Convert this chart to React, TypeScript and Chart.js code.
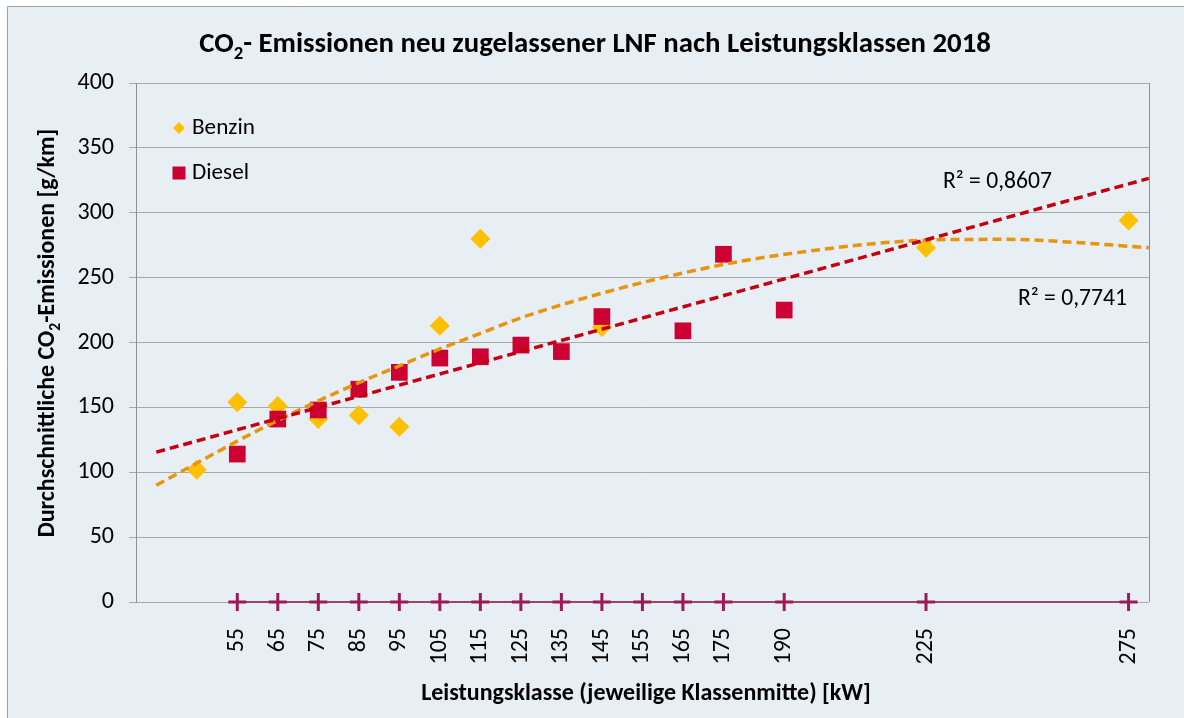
import React, { useEffect, useRef } from "react";
import { Chart, registerables } from "chart.js";
Chart.register(...registerables);

const FONT = "Carlito, Lato, 'Open Sans', sans-serif";

// ---- data ----
const X_TICKS = [55, 65, 75, 85, 95, 105, 115, 125, 135, 145, 155, 165, 175, 190, 225, 275];
const AXIS_MARK_Y = [0, 0, 0, 0, 0, 0, 0, 0, 0, 0, 0, 0, 0, 0, 0, 0];
const BENZIN_X = [45, 55, 65, 75, 85, 95, 105, 115, 145, 225, 275];
const BENZIN_Y = [102, 154, 151, 141, 144, 135, 213, 280, 212, 273, 294];
const DIESEL_X = [55, 65, 75, 85, 95, 105, 115, 125, 135, 145, 165, 175, 190];
const DIESEL_Y = [114, 141, 148, 164, 177, 188, 189, 198, 193, 220, 209, 268, 225];
const BENZIN_TREND_X = [35, 45, 55, 65, 75, 85, 95, 105, 115, 125, 135, 145, 160, 180, 200, 215, 230, 245, 260, 280];
const BENZIN_TREND_Y = [90, 107, 124, 140, 155, 169, 182, 195, 207, 219, 229, 238, 250, 263, 272, 277, 279.3, 279.5, 277.5, 273];
const DIESEL_TREND_X = [35, 280];
const DIESEL_TREND_Y = [115.5, 326.5];
const R2_LABELS = ["R² = 0,8607", "R² = 0,7741"];
const SERIES = ["Benzin", "Diesel"];
const TITLE = ["CO", "2", "- Emissionen neu zugelassener LNF nach Leistungsklassen 2018"];
const Y_TITLE = ["Durchschnittliche CO", "2", "-Emissionen [g/km]"];
const X_TITLE = "Leistungsklasse (jeweilige Klassenmitte) [kW]";
const X_MIN = 30;
const X_MAX = 280;
const Y_MIN = 0;
const Y_MAX = 400;
const Y_STEP = 50;

// ---- styles ----
const BG = "#E7EEF4";
const GRID = "#A9A9A9";
const AXIS = "#8E8E8E";
const BENZIN_COLOR = "#FFC000";
const DIESEL_COLOR = "#CC0033";
const BENZIN_TREND_COLOR = "#E8940C";
const DIESEL_TREND_COLOR = "#C40010";
const MARK_COLOR = "#9B1B5A";
const MARK_LINE = "#9A4570";
const TICK_SIZE = 24;

Chart.defaults.font.family = FONT;
Chart.defaults.font.size = TICK_SIZE;
Chart.defaults.color = "#000";

const pts = (xs: number[], ys: number[]) => xs.map((x, i) => ({ x, y: ys[i] }));

function drawSubText(
  ctx: CanvasRenderingContext2D,
  parts: string[],
  size: number,
  targetWidth: number,
  cx: number,
  cy: number
) {
  const measure = (s: number) => {
    ctx.font = `bold ${s}px ${FONT}`;
    const a = ctx.measureText(parts[0]).width;
    const c = ctx.measureText(parts[2]).width;
    ctx.font = `bold ${s * 0.65}px ${FONT}`;
    const b = ctx.measureText(parts[1]).width;
    return [a, b, c];
  };
  let [a, b, c] = measure(size);
  const s = size * (targetWidth / (a + b + c));
  [a, b, c] = measure(s);
  const total = a + b + c;
  let x = cx - total / 2;
  ctx.fillStyle = "#000";
  ctx.textAlign = "left";
  ctx.textBaseline = "middle";
  ctx.font = `bold ${s}px ${FONT}`;
  ctx.fillText(parts[0], x, cy);
  x += a;
  ctx.font = `bold ${s * 0.65}px ${FONT}`;
  ctx.fillText(parts[1], x, cy + s * 0.32);
  x += b;
  ctx.font = `bold ${s}px ${FONT}`;
  ctx.fillText(parts[2], x, cy);
}

function drawFitText(
  ctx: CanvasRenderingContext2D,
  text: string,
  weight: string,
  size: number,
  targetWidth: number,
  x: number,
  y: number,
  align: CanvasTextAlign
) {
  ctx.font = `${weight} ${size}px ${FONT}`;
  const w = ctx.measureText(text).width;
  const s = size * (targetWidth / w);
  ctx.font = `${weight} ${s}px ${FONT}`;
  ctx.textAlign = align;
  ctx.textBaseline = "middle";
  ctx.fillStyle = "#000";
  ctx.fillText(text, x, y);
}

const decorPlugin = {
  id: "decor",
  beforeDraw(chart: any) {
    const ctx = chart.ctx as CanvasRenderingContext2D;
    ctx.save();
    ctx.fillStyle = "#FFFFFF";
    ctx.fillRect(0, 0, chart.width, chart.height);
    ctx.fillStyle = BG;
    ctx.fillRect(7, 6, chart.width, chart.height);
    ctx.strokeStyle = "#A0A0A0";
    ctx.lineWidth = 1;
    ctx.beginPath();
    ctx.moveTo(7.5, chart.height);
    ctx.lineTo(7.5, 6.5);
    ctx.lineTo(chart.width, 6.5);
    ctx.stroke();
    ctx.restore();
  },
  beforeDatasetsDraw(chart: any) {
    const ctx = chart.ctx as CanvasRenderingContext2D;
    const a = chart.chartArea;
    ctx.save();
    ctx.strokeStyle = AXIS;
    ctx.lineWidth = 1;
    ctx.beginPath();
    ctx.moveTo(Math.round(a.right) + 0.5, a.top);
    ctx.lineTo(Math.round(a.right) + 0.5, a.bottom);
    ctx.stroke();
    ctx.restore();
  },
  afterDraw(chart: any) {
    const ctx = chart.ctx as CanvasRenderingContext2D;
    ctx.save();
    drawSubText(ctx, TITLE, 22, 792, 595, 45);
    ctx.save();
    ctx.translate(48, 333);
    ctx.rotate(-Math.PI / 2);
    drawSubText(ctx, Y_TITLE, 18, 409, 0, 0);
    ctx.restore();
    drawFitText(ctx, X_TITLE, "bold", 18, 450, 646, 694, "center");
    ctx.fillStyle = BENZIN_COLOR;
    ctx.beginPath();
    ctx.moveTo(179, 122);
    ctx.lineTo(185, 128);
    ctx.lineTo(179, 134);
    ctx.lineTo(173, 128);
    ctx.closePath();
    ctx.fill();
    ctx.fillStyle = DIESEL_COLOR;
    ctx.fillRect(172.5, 166.5, 13, 13);
    drawFitText(ctx, SERIES[0], "normal", 20, 63, 192, 128, "left");
    drawFitText(ctx, SERIES[1], "normal", 20, 57, 192, 173, "left");
    drawFitText(ctx, R2_LABELS[0], "normal", 20, 109, 943, 182, "left");
    drawFitText(ctx, R2_LABELS[1], "normal", 20, 109, 1018, 299, "left");
    ctx.restore();
  },
};

export default function App() {
  const ref = useRef<HTMLCanvasElement | null>(null);
  useEffect(() => {
    document.body.style.margin = "0";
    if (!ref.current) return;
    const tickFont = { family: FONT, size: TICK_SIZE, weight: "normal" };
    const chart = new Chart(ref.current, {
      type: "scatter",
      data: {
        datasets: [
          {
            type: "line",
            label: "Linear (Diesel)",
            data: pts(DIESEL_TREND_X, DIESEL_TREND_Y),
            borderColor: DIESEL_TREND_COLOR,
            borderWidth: 3.5,
            borderDash: [9, 5],
            pointRadius: 0,
            fill: false,
            order: 0,
            clip: false,
          } as any,
          {
            type: "line",
            label: "Poly. (Benzin)",
            data: pts(BENZIN_TREND_X, BENZIN_TREND_Y),
            borderColor: BENZIN_TREND_COLOR,
            borderWidth: 3.5,
            borderDash: [9, 5],
            pointRadius: 0,
            fill: false,
            cubicInterpolationMode: "monotone",
            order: 1,
            clip: false,
          } as any,
          {
            label: SERIES[1],
            data: pts(DIESEL_X, DIESEL_Y),
            pointStyle: "rect",
            pointRadius: 11.8,
            backgroundColor: DIESEL_COLOR,
            borderWidth: 0,
            pointBorderWidth: 0,
            order: 2,
            clip: false,
          } as any,
          {
            label: SERIES[0],
            data: pts(BENZIN_X, BENZIN_Y),
            pointStyle: "rectRot",
            pointRadius: 10,
            backgroundColor: BENZIN_COLOR,
            borderWidth: 0,
            pointBorderWidth: 0,
            order: 3,
            clip: false,
          } as any,
          {
            type: "line",
            label: "Achse",
            data: pts(X_TICKS, AXIS_MARK_Y),
            borderColor: MARK_LINE,
            borderWidth: 2,
            pointStyle: "cross",
            pointRadius: 9,
            pointBorderWidth: 3,
            pointBorderColor: MARK_COLOR,
            fill: false,
            order: 4,
            clip: false,
          } as any,
        ],
      },
      options: {
        responsive: false,
        animation: false,
        devicePixelRatio: 1,
        layout: { padding: { left: 0, top: 83, right: 32, bottom: 0 } },
        plugins: {
          legend: { display: false },
          title: { display: false },
          tooltip: { enabled: false },
        },
        scales: {
          x: {
            type: "linear",
            min: X_MIN,
            max: X_MAX,
            afterBuildTicks: (s: any) => {
              s.ticks = X_TICKS.map((v) => ({ value: v }));
            },
            afterFit: (s: any) => {
              s.height = 116;
            },
            ticks: {
              autoSkip: false,
              minRotation: 90,
              maxRotation: 90,
              padding: 26,
              color: "#000",
              font: tickFont,
            },
            grid: { display: false, drawTicks: false },
            border: { display: false },
          },
          y: {
            min: Y_MIN,
            max: Y_MAX,
            afterFit: (s: any) => {
              s.width = 136;
            },
            ticks: {
              stepSize: Y_STEP,
              padding: 15,
              color: "#000",
              font: tickFont,
            },
            grid: { color: GRID, lineWidth: 1, tickLength: 7, drawTicks: true, tickColor: GRID },
            border: { display: true, color: AXIS, width: 1 },
          },
        },
      },
      plugins: [decorPlugin],
    } as any);
    return () => chart.destroy();
  }, []);
  return (
    <div style={{ width: 1184, height: 718 }}>
      <canvas ref={ref} width={1184} height={718} />
    </div>
  );
}
